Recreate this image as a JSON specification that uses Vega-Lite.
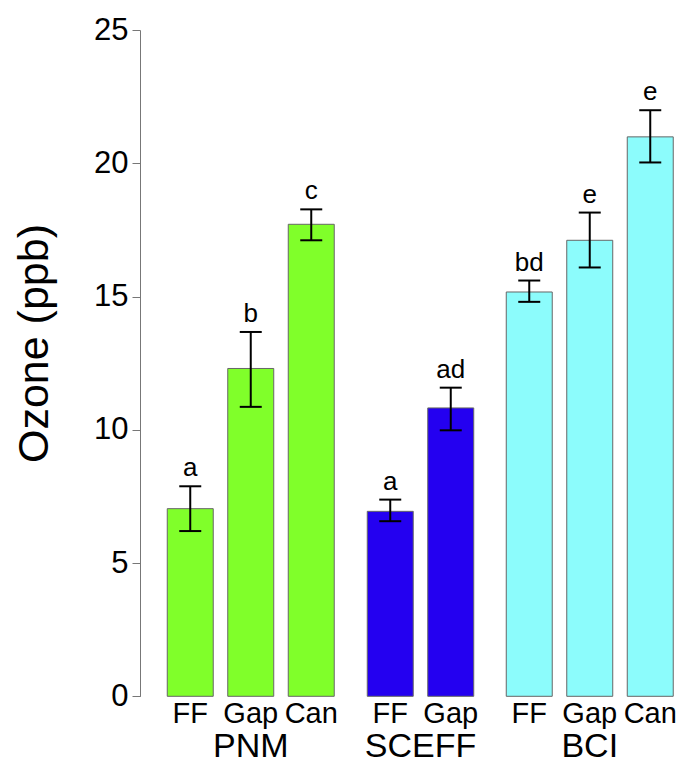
{
  "$schema": "https://vega.github.io/schema/vega-lite/v6.json",
  "background": "white",
  "padding": {"left": 13, "top": 14, "right": 0, "bottom": 0},
  "data": {"values": [
    {"site": "PNM", "treat": "FF", "mean": 7.04, "lo": 6.2, "hi": 7.88, "letter": "a"},
    {"site": "PNM", "treat": "Gap", "mean": 12.3, "lo": 10.86, "hi": 13.67, "letter": "b"},
    {"site": "PNM", "treat": "Can", "mean": 17.71, "lo": 17.11, "hi": 18.27, "letter": "c"},
    {"site": "SCEFF", "treat": "FF", "mean": 6.94, "lo": 6.57, "hi": 7.38, "letter": "a"},
    {"site": "SCEFF", "treat": "Gap", "mean": 10.82, "lo": 9.98, "hi": 11.58, "letter": "ad"},
    {"site": "BCI", "treat": "FF", "mean": 15.17, "lo": 14.8, "hi": 15.6, "letter": "bd"},
    {"site": "BCI", "treat": "Gap", "mean": 17.11, "lo": 16.09, "hi": 18.15, "letter": "e"},
    {"site": "BCI", "treat": "Can", "mean": 20.99, "lo": 20.03, "hi": 21.99, "letter": "e"}
  ]},
  "facet": {
    "column": {
      "field": "site", "type": "nominal", "sort": ["PNM", "SCEFF", "BCI"], "title": null,
      "header": {"labelOrient": "bottom", "labelFont": "Liberation Sans", "labelFontSize": 34, "labelColor": "black", "labelPadding": 1, "labelBaseline": "top"}
    }
  },
  "spacing": 18,
  "resolve": {"scale": {"x": "independent"}},
  "spec": {
    "width": {"step": 60.5},
    "height": 666.3,
    "encoding": {
      "x": {
        "field": "treat", "type": "nominal", "sort": null,
        "scale": {"paddingInner": 0.24, "paddingOuter": 0.12},
        "axis": {"title": null, "labelAngle": 0, "domain": false, "ticks": false, "labelFont": "Liberation Sans", "labelFontSize": 29, "labelColor": "black", "labelPadding": 3}
      }
    },
    "layer": [
      {
        "mark": {"type": "bar", "stroke": "#666666", "strokeWidth": 1},
        "encoding": {
          "y": {
            "field": "mean", "type": "quantitative", "title": "Ozone (ppb)",
            "scale": {"domain": [0, 25], "nice": false},
            "axis": {"values": [0, 5, 10, 15, 20, 25], "grid": false, "offset": 20, "tickSize": 8, "tickColor": "#777777", "domainColor": "#777777", "labelFont": "Liberation Sans", "labelFontSize": 31, "labelColor": "black", "labelPadding": 4, "titleFont": "Liberation Sans", "titleFontSize": 43, "titleFontWeight": "normal", "titleColor": "black", "titlePadding": 37, "titleY": 313}
          },
          "color": {"field": "site", "type": "nominal", "scale": {"domain": ["PNM", "SCEFF", "BCI"], "range": ["#80ff2a", "#2400f0", "#8cfcfc"]}, "legend": null}
        }
      },
      {
        "mark": {"type": "rule", "color": "black", "strokeWidth": 2},
        "encoding": {"y": {"field": "lo", "type": "quantitative", "title": "Ozone (ppb)"}, "y2": {"field": "hi"}}
      },
      {
        "mark": {"type": "tick", "color": "black", "thickness": 2, "size": 22, "opacity": 1},
        "encoding": {"y": {"field": "lo", "type": "quantitative", "title": "Ozone (ppb)"}}
      },
      {
        "mark": {"type": "tick", "color": "black", "thickness": 2, "size": 22, "opacity": 1},
        "encoding": {"y": {"field": "hi", "type": "quantitative", "title": "Ozone (ppb)"}}
      },
      {
        "mark": {"type": "text", "dy": -10, "baseline": "alphabetic", "font": "Liberation Sans", "fontSize": 26, "color": "black"},
        "encoding": {"y": {"field": "hi", "type": "quantitative", "title": "Ozone (ppb)"}, "text": {"field": "letter"}}
      }
    ]
  },
  "config": {"view": {"stroke": null}}
}
